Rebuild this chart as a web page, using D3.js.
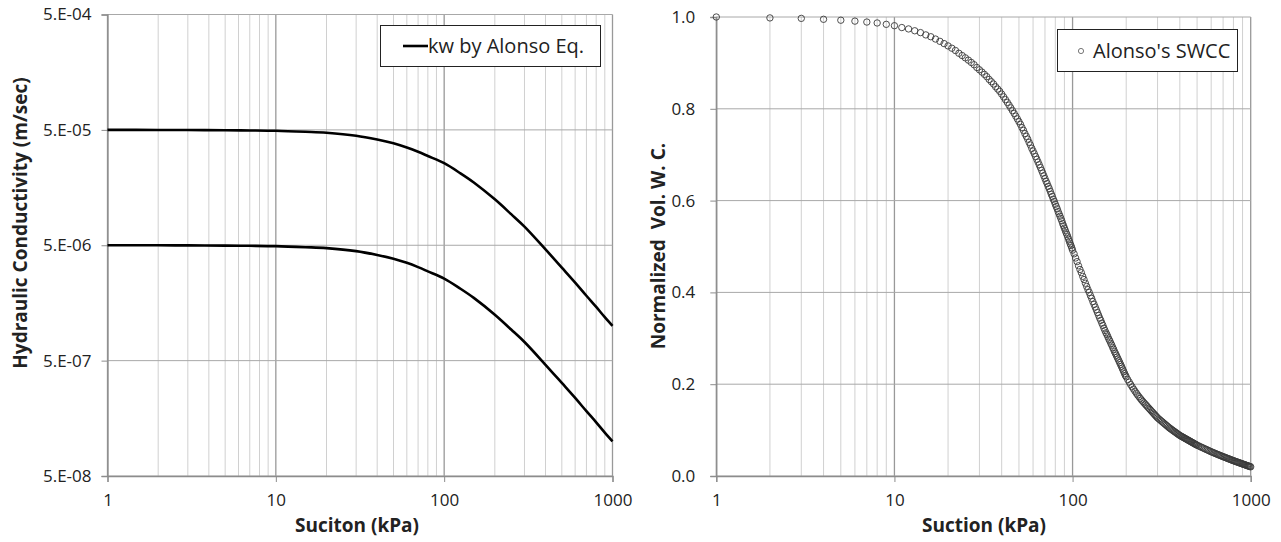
<!DOCTYPE html>
<html>
<head>
<meta charset="utf-8">
<style>
  body { margin: 0; background: #fff; }
  text { font-family: "Open Sans", sans-serif; fill: #222; }
</style>
</head>
<body>
<div id="chart"></div>
<script src="https://d3js.org/d3.v7.min.js"></script>
<script>
// ---- left chart: hydraulic conductivity ----
var kSuction = [1,2,3,5,7,10,15,20,30,40,50,60,70,80,100,125,150,200,250,300,400,500,600,700,800,900,1000];
var kUpper = [5.00e-5,4.995e-5,4.985e-5,4.965e-5,4.945e-5,4.91e-5,4.81e-5,4.72e-5,4.45e-5,4.12e-5,3.82e-5,3.52e-5,3.23e-5,2.97e-5,2.57e-5,2.10e-5,1.75e-5,1.25e-5,9.3e-6,7.25e-6,4.6e-6,3.2e-6,2.375e-6,1.825e-6,1.46e-6,1.19e-6,1.0e-6];
var kLower = [5.00e-6,4.995e-6,4.985e-6,4.965e-6,4.945e-6,4.91e-6,4.81e-6,4.72e-6,4.45e-6,4.12e-6,3.82e-6,3.52e-6,3.23e-6,2.97e-6,2.57e-6,2.10e-6,1.75e-6,1.25e-6,9.3e-7,7.25e-7,4.6e-7,3.2e-7,2.375e-7,1.825e-7,1.46e-7,1.19e-7,1.0e-7];
var kTicks = [5e-8,5e-7,5e-6,5e-5,5e-4];
var kTickLabels = ["5.E-08","5.E-07","5.E-06","5.E-05","5.E-04"];

// ---- right chart: SWCC ----
var swccSuction = [
  1,2,3,4,5,6,7,8,9,10,11,12,13,14,15,16,17,18,19,20,
  21,22,23,24,25,26,27,28,29,30,31,32,33,34,35,36,37,38,39,40,
  41,42,43,44,45,46,47,48,49,50,51,52,53,54,55,56,57,58,59,60,
  61,62,63,64,65,66,67,68,69,70,71,72,73,74,75,76,77,78,79,80,
  81,82,83,84,85,86,87,88,89,90,91,92,93,94,95,96,97,98,99,100,
  102,104,106,108,110,112,114,116,118,120,122,124,126,128,130,132,134,136,138,140,
  142,144,146,148,150,152,154,156,158,160,162,164,166,168,170,172,174,176,178,180,
  182,184,186,188,190,192,194,196,198,200,
  204,208,212,216,220,224,228,232,236,240,244,248,252,256,260,264,268,272,276,280,284,288,292,296,300,
  305,310,315,320,325,330,335,340,345,350,355,360,365,370,375,380,385,390,395,400,
  405,410,415,420,425,430,435,440,445,450,455,460,465,470,475,480,485,490,495,500,
  510,520,530,540,550,560,570,580,590,600,610,620,630,640,650,660,670,680,690,700,
  710,720,730,740,750,760,770,780,790,800,810,820,830,840,850,860,870,880,890,900,
  910,920,930,940,950,960,970,980,990,1000
];
var swccValues = [
  1.000,0.998,0.997,0.995,0.993,0.991,0.989,0.987,0.984,0.981,
  0.977,0.974,0.970,0.966,0.961,0.957,0.952,0.947,0.942,0.937,
  0.932,0.927,0.921,0.916,0.911,0.906,0.901,0.896,0.890,0.885,
  0.880,0.875,0.870,0.864,0.859,0.854,0.848,0.843,0.838,0.832,
  0.826,0.820,0.814,0.808,0.802,0.796,0.790,0.784,0.778,0.772,
  0.766,0.759,0.753,0.746,0.740,0.734,0.727,0.721,0.714,0.708,
  0.702,0.696,0.690,0.684,0.678,0.672,0.666,0.660,0.654,0.648,
  0.642,0.637,0.631,0.626,0.620,0.614,0.609,0.603,0.598,0.592,
  0.587,0.582,0.576,0.571,0.566,0.561,0.556,0.550,0.545,0.540,
  0.535,0.530,0.526,0.521,0.516,0.511,0.506,0.502,0.497,0.492,
  0.484,0.475,0.467,0.458,0.450,0.443,0.435,0.428,0.420,0.413,
  0.406,0.400,0.393,0.387,0.380,0.374,0.368,0.362,0.356,0.350,
  0.344,0.339,0.333,0.328,0.322,0.317,0.312,0.308,0.303,0.298,
  0.294,0.289,0.285,0.280,0.276,0.271,0.267,0.263,0.259,0.255,
  0.251,0.247,0.243,0.239,0.235,0.231,0.227,0.223,0.219,0.216,
  0.2101,0.2045,0.1991,0.1941,0.1893,0.1848,0.1805,0.1764,0.1726,0.1690,0.1655,0.1623,0.1592,0.1563,0.1534,0.1505,0.1477,0.1450,0.1422,0.1395,0.1369,0.1343,0.1317,0.1292,0.1267,
  0.1243,0.1220,0.1197,0.1175,0.1152,0.1130,0.1109,0.1088,0.1067,0.1046,0.1029,0.1012,0.0995,0.0978,0.0962,0.0946,0.0930,0.0914,0.0899,0.0884,
  0.0872,0.0860,0.0849,0.0837,0.0826,0.0815,0.0804,0.0793,0.0782,0.0771,0.0761,0.0750,0.0740,0.0730,0.0720,0.0710,0.0700,0.0690,0.0680,0.0671,
  0.0656,0.0640,0.0625,0.0611,0.0596,0.0582,0.0569,0.0555,0.0542,0.0528,0.0517,0.0505,0.0494,0.0483,0.0472,0.0462,0.0451,0.0441,0.0431,0.0421,
  0.0412,0.0403,0.0394,0.0385,0.0376,0.0367,0.0359,0.0350,0.0342,0.0334,0.0326,0.0319,0.0312,0.0304,0.0297,0.0290,0.0283,0.0276,0.0269,0.0262,
  0.0256,0.0249,0.0243,0.0237,0.0230,0.0224,0.0218,0.0212,0.0206,0.0200
];
var swccTicks = [0,0.2,0.4,0.6,0.8,1.0];
var xTickValues = [1,10,100,1000];

var svg = d3.select("#chart").append("svg")
  .attr("width", 1281)
  .attr("height", 542);

var minorCol = "#d0d0d0", majorCol = "#a8a8a8", axisCol = "#8c8c8c";

function drawLogGrid(g, x, y0, y1) {
  var vals = x.ticks();
  g.selectAll("line.vg").data(vals).enter().append("line")
    .attr("class", "vg")
    .attr("x1", function(d){ return x(d); })
    .attr("x2", function(d){ return x(d); })
    .attr("y1", y0).attr("y2", y1)
    .attr("stroke", function(d){ return xTickValues.indexOf(d) >= 0 ? "#999" : minorCol; })
    .attr("stroke-width", function(d){ return xTickValues.indexOf(d) >= 0 ? 1.3 : 1; });
}

function styleTicks(ax) {
  ax.select(".domain").attr("stroke", axisCol).attr("stroke-width", 1.3);
  ax.selectAll(".tick line").attr("stroke", axisCol);
  ax.selectAll(".tick text").style("font-size", "17px").attr("fill", "#333")
    .style("font-family", "Open Sans, sans-serif");
}

function drawXAxis(g, x, yPos, title, titleX) {
  var ax = g.append("g")
    .attr("transform", "translate(0," + yPos + ")")
    .call(d3.axisBottom(x).tickValues(xTickValues).tickFormat(d3.format("d")).tickSize(6).tickPadding(12));
  styleTicks(ax);
  g.append("text")
    .attr("x", titleX).attr("y", 532)
    .attr("text-anchor", "middle")
    .style("font-size", "19px").style("font-weight", "bold")
    .text(title);
}

// ================= LEFT =================
var xL = d3.scaleLog().domain([1, 1000]).range([107.5, 612.5]);
var yL = d3.scaleLog().domain([5e-8, 5e-4]).range([476, 14.5]);
var gL = svg.append("g");

drawLogGrid(gL, xL, 14.5, 476);

gL.selectAll("line.hg").data(kTicks).enter().append("line")
  .attr("x1", xL(1)).attr("x2", xL(1000))
  .attr("y1", function(d){ return yL(d); })
  .attr("y2", function(d){ return yL(d); })
  .attr("stroke", majorCol);

var axL = gL.append("g")
  .attr("transform", "translate(" + xL(1) + ",0)")
  .call(d3.axisLeft(yL).tickValues(kTicks)
    .tickFormat(function(d, i){ return kTickLabels[i]; })
    .tickSize(6).tickPadding(10));
styleTicks(axL);

drawXAxis(gL, xL, 476, "Suciton (kPa)", 357);

gL.append("text")
  .attr("transform", "translate(27,223) rotate(-90)")
  .attr("text-anchor", "middle")
  .style("font-size", "19px").style("font-weight", "bold")
  .text("Hydraulic Conductivity (m/sec)");

var lineL = d3.line()
  .x(function(d){ return xL(d[0]); })
  .y(function(d){ return yL(d[1]); })
  .curve(d3.curveCatmullRom.alpha(0.5));

[kUpper, kLower].forEach(function(series) {
  gL.append("path")
    .datum(kSuction.map(function(s, i){ return [s, series[i]]; }))
    .attr("d", lineL)
    .attr("fill", "none")
    .attr("stroke", "#000")
    .attr("stroke-width", 2.6);
});

// legend left
var legL = gL.append("g");
legL.append("rect").attr("x", 380.5).attr("y", 25.5).attr("width", 220).attr("height", 41)
  .attr("fill", "#fff").attr("stroke", "#222").attr("stroke-width", 1);
legL.append("line").attr("x1", 403).attr("x2", 428).attr("y1", 46).attr("y2", 46)
  .attr("stroke", "#000").attr("stroke-width", 2.6);
legL.append("text").attr("x", 428).attr("y", 53)
  .style("font-size", "20px").text("kw by Alonso Eq.");

// ================= RIGHT =================
var xR = d3.scaleLog().domain([1, 1000]).range([716.3, 1250.7]);
var yR = d3.scaleLinear().domain([0, 1]).range([476, 17]);
var gR = svg.append("g");

drawLogGrid(gR, xR, 17, 476);

gR.selectAll("line.hg").data(swccTicks).enter().append("line")
  .attr("x1", xR(1)).attr("x2", xR(1000))
  .attr("y1", function(d){ return yR(d); })
  .attr("y2", function(d){ return yR(d); })
  .attr("stroke", majorCol);

var axR = gR.append("g")
  .attr("transform", "translate(" + xR(1) + ",0)")
  .call(d3.axisLeft(yR).tickValues(swccTicks).tickFormat(d3.format(".1f")).tickSize(6).tickPadding(15));
styleTicks(axR);

drawXAxis(gR, xR, 476, "Suction (kPa)", 984);

gR.append("text")
  .attr("transform", "translate(665,246) rotate(-90)")
  .attr("text-anchor", "middle")
  .style("font-size", "19px").style("font-weight", "bold")
  .style("white-space", "pre")
  .text("Normalized  Vol. W. C.");

gR.selectAll("circle.pt").data(swccSuction).enter().append("circle")
  .attr("class", "pt")
  .attr("cx", function(d){ return xR(d); })
  .attr("cy", function(d, i){ return yR(swccValues[i]); })
  .attr("r", 3.2)
  .attr("fill", "none")
  .attr("stroke", "#3a3a3a")
  .attr("stroke-width", 0.9);

// legend right
var legR = gR.append("g");
legR.append("rect").attr("x", 1057.5).attr("y", 29.5).attr("width", 180).attr("height", 42)
  .attr("fill", "#fff").attr("stroke", "#222").attr("stroke-width", 1);
legR.append("circle").attr("cx", 1081).attr("cy", 51).attr("r", 2.6)
  .attr("fill", "none").attr("stroke", "#555").attr("stroke-width", 0.8);
legR.append("text").attr("x", 1093).attr("y", 58)
  .style("font-size", "20px").text("Alonso's SWCC");
</script>
</body>
</html>
